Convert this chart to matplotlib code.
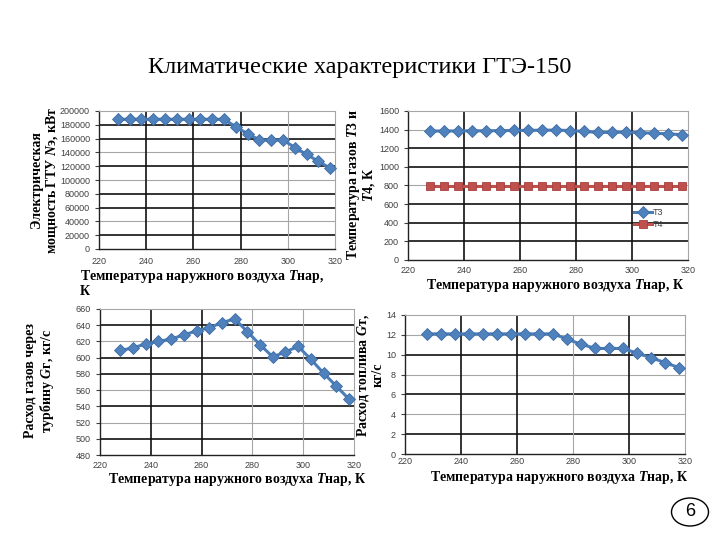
import matplotlib
matplotlib.use("Agg")
import matplotlib.pyplot as plt
from matplotlib.patches import Ellipse

# ---------------- data ----------------
t_air = [228, 233, 238, 243, 248, 253, 258, 263, 268, 273,
         278, 283, 288, 293, 298, 303, 308, 313, 318]
power_kw = [188000, 188000, 188000, 188000, 188000, 188000, 188000, 188000, 188000, 188000,
            177000, 167000, 158000, 158000, 158000, 147000, 137000, 127000, 117000]
t3 = [1385, 1385, 1386, 1387, 1388, 1389, 1391, 1392, 1394, 1395,
      1390, 1380, 1370, 1370, 1373, 1368, 1360, 1355, 1345]
t4 = [795, 795, 795, 795, 795, 795, 795, 795, 795, 795,
      795, 795, 795, 795, 795, 795, 795, 795, 795]
gas_flow = [609, 612, 617, 620, 623, 628, 633, 637, 643, 648,
            632, 616, 601, 607, 614, 598, 581, 565, 549]
fuel_flow = [12.1, 12.1, 12.1, 12.1, 12.1, 12.1, 12.1, 12.1, 12.1, 12.1,
             11.55, 11.05, 10.63, 10.63, 10.63, 10.13, 9.69, 9.19, 8.68]

x_ticks = [220, 240, 260, 280, 300, 320]
power_ticks = [0, 20000, 40000, 60000, 80000, 100000, 120000, 140000, 160000, 180000, 200000]
temp_ticks = [0, 200, 400, 600, 800, 1000, 1200, 1400, 1600]
gas_ticks = [480, 500, 520, 540, 560, 580, 600, 620, 640, 660]
fuel_ticks = [0, 2, 4, 6, 8, 10, 12, 14]

title = "Климатические характеристики ГТЭ-150"
xlab = "Температура наружного воздуха $T$нар, К"
xlab_tl = "Температура наружного воздуха $T$нар,\nК"
ylab_tl = "Электрическая\nмощность ГТУ $N$э, кВт"
ylab_tr = "Температура газов $T$3 и\n$T$4, К"
ylab_bl = "Расход газов через\nтурбину $G$г, кг/с"
ylab_br = "Расход топлива $G$т,\nкг/с"
legend_labels = ["T3", "T4"]
page_no = "6"

# ---------------- style ----------------
plt.rcParams['mathtext.fontset'] = 'custom'
plt.rcParams['mathtext.it'] = 'Liberation Serif:italic:bold'
plt.rcParams['mathtext.rm'] = 'Liberation Serif:bold'
plt.rcParams['mathtext.bf'] = 'Liberation Serif:bold'

W, H = 720, 540
fig = plt.figure(figsize=(7.2, 5.4), dpi=100)
fig.patch.set_facecolor("white")

BLUE_LINE = "#4A7EBB"
BLUE_MK = "#4F81BD"
BLUE_EDGE = "#3E6BA3"
RED = "#C0504D"
TICK_COL = "#404040"
GRAY = "#A6A6A6"


def px_axes(l, t, r, b):
    return fig.add_axes([l / W, 1 - b / H, (r - l) / W, (b - t) / H])


def style(ax, yticks, black_h, dark_v, gray_v, xpad=6):
    ax.set_xlim(220, 320)
    ax.set_ylim(yticks[0], yticks[-1])
    ax.set_xticks(x_ticks)
    ax.set_yticks(yticks)
    ax.tick_params(axis='both', labelsize=6.5, labelcolor=TICK_COL, colors=TICK_COL,
                   length=3, width=0.8, direction='out')
    ax.tick_params(axis='x', length=0, pad=xpad)
    for lab in ax.get_xticklabels() + ax.get_yticklabels():
        lab.set_fontfamily("Liberation Sans")
    for yv in yticks[1:-1]:
        if yv in black_h:
            ax.axhline(yv, color="#111111", lw=1.2, zorder=1)
        else:
            ax.axhline(yv, color=GRAY, lw=0.8, zorder=1)
    for xv in x_ticks[1:-1]:
        if xv in dark_v:
            ax.axvline(xv, color="#111111", lw=1.2, zorder=1)
        elif xv in gray_v:
            ax.axvline(xv, color=GRAY, lw=0.8, zorder=1)
    ax.spines['left'].set_color("#222222")
    ax.spines['bottom'].set_color("#222222")
    ax.spines['left'].set_linewidth(1.0)
    ax.spines['bottom'].set_linewidth(1.0)
    ax.spines['top'].set_color(GRAY)
    ax.spines['right'].set_color(GRAY)
    ax.spines['top'].set_linewidth(0.8)
    ax.spines['right'].set_linewidth(0.8)


def blue_line(ax, y, label=None):
    ax.plot(t_air, y, color=BLUE_LINE, lw=2.2, marker='D', ms=5.8,
            mfc=BLUE_MK, mec=BLUE_EDGE, mew=0.6, zorder=3, label=label, clip_on=False)


def ftext(x, y, s, **kw):
    fig.text(x / W, 1 - y / H, s, **kw)


LBL = dict(family="Liberation Serif", fontweight="bold", fontsize=10)

# title
ftext(360, 67, title, family="Liberation Serif", fontsize=17.5, ha="center", va="center")

# --- top-left ---
ax1 = px_axes(99, 111, 335, 249)
style(ax1, power_ticks, [20000, 60000, 80000, 120000, 160000, 180000], [240, 260, 280], [300])
blue_line(ax1, power_kw)
ftext(45, 180, ylab_tl, rotation=90, ha="center", va="center", multialignment="center",
      linespacing=1.05, **LBL)
ftext(80, 268, xlab_tl, ha="left", va="top", linespacing=1.05, **LBL)

# --- top-right ---
ax2 = px_axes(408, 111, 688, 260)
style(ax2, temp_ticks, [200, 400, 600, 1000, 1200], [240, 260, 280, 300], [], xpad=4)
blue_line(ax2, t3, label=legend_labels[0])
ax2.plot(t_air, t4, color=RED, lw=2.2, marker='s', ms=6, mfc=RED, mec="#A5403D",
         mew=0.6, zorder=3, label=legend_labels[1], clip_on=False)
leg = ax2.legend(loc="center left", bbox_to_anchor=(0.79, 0.28), frameon=False,
                 prop={"family": "Liberation Sans", "size": 6.5}, handlelength=2.0,
                 handletextpad=0.1, labelspacing=0.35, borderpad=0)
for t in leg.get_texts():
    t.set_color(TICK_COL)
ftext(361, 185, ylab_tr, rotation=90, ha="center", va="center", multialignment="center",
      linespacing=1.0, **LBL)
ftext(555, 286, xlab, ha="center", va="center", **LBL)

# --- bottom-left ---
ax3 = px_axes(100, 309, 354, 455)
style(ax3, gas_ticks, [500, 540, 580, 600, 640], [240, 260], [280, 300], xpad=4)
blue_line(ax3, gas_flow)
ftext(40, 381, ylab_bl, rotation=90, ha="center", va="center", multialignment="center",
      linespacing=1.05, **LBL)
ftext(237, 480, xlab, ha="center", va="center", **LBL)

# --- bottom-right ---
ax4 = px_axes(405, 315, 685, 454)
style(ax4, fuel_ticks, [2, 6, 10], [240, 260, 300], [280], xpad=2)
blue_line(ax4, fuel_flow)
ftext(370, 375, ylab_br, rotation=90, ha="center", va="center", multialignment="center",
      linespacing=1.05, **LBL)
ftext(559, 478, xlab, ha="center", va="center", **LBL)

# page number
ell = Ellipse((690 / W, 1 - 512 / H), 37 / W, 28 / H, transform=fig.transFigure,
              facecolor="white", edgecolor="black", lw=1.0)
fig.add_artist(ell)
ftext(690, 512, page_no, family="Liberation Sans", fontsize=13, ha="center", va="center")

fig.savefig("out.png", dpi=100)
